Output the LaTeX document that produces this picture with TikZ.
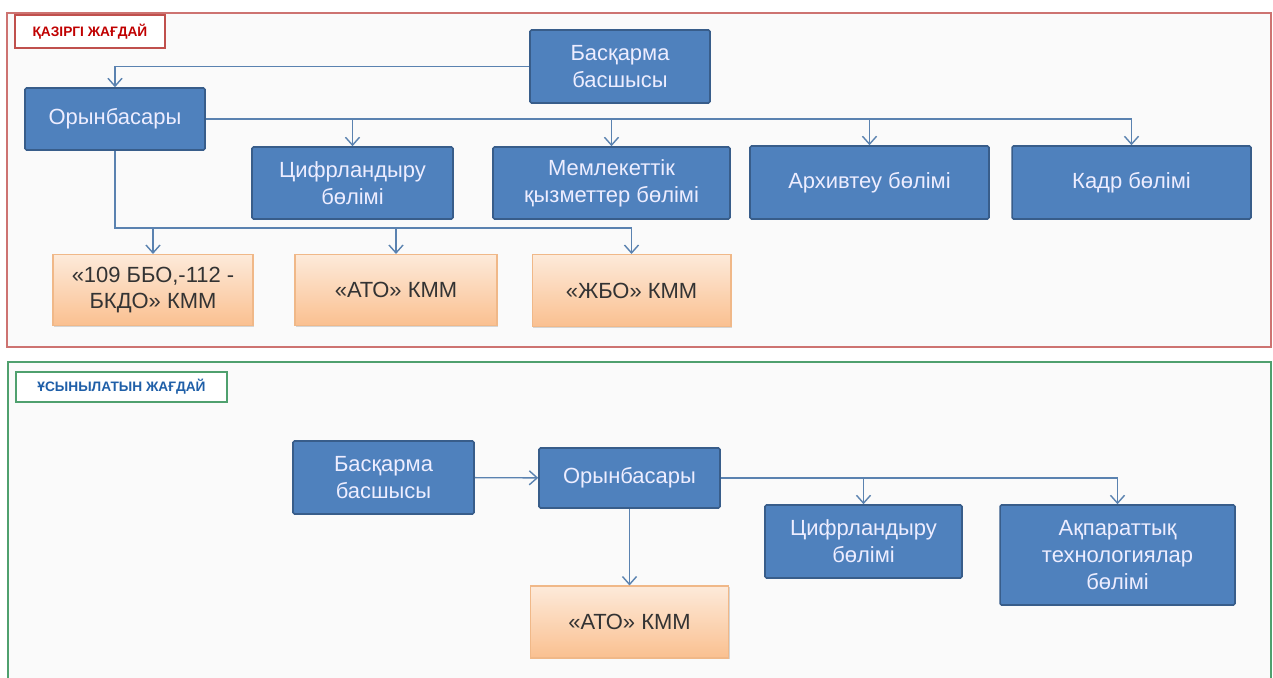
\documentclass[tikz,border=0pt]{standalone}
\usepackage{fontspec}
\setmainfont{Liberation Sans}
\usetikzlibrary{arrows.meta, positioning, shadows}
\definecolor{boxblue}{HTML}{4F81BD}
\definecolor{boxedge}{HTML}{385D8A}
\definecolor{linkblue}{HTML}{5A82B0}
\definecolor{peachtop}{HTML}{FDEADA}
\definecolor{peachbot}{HTML}{FAC090}
\definecolor{peachedge}{HTML}{F0B888}
\definecolor{nowred}{HTML}{C0504D}
\definecolor{nowtext}{HTML}{C00000}
\definecolor{newgreen}{HTML}{4FA06E}
\definecolor{newtext}{HTML}{1F5FA8}
\tikzset{
  unit/.style={rectangle,draw=boxedge,line width=0.9pt,rounded corners=0.8pt,fill=boxblue,text=white!93!blue,
    align=center,inner sep=2pt,font=\fontsize{12.5}{15.3}\selectfont},
  kmm/.style={rectangle,draw=peachedge,line width=0.6pt,top color=peachtop,bottom color=peachbot,text=black!80,
    align=center,inner sep=2pt,font=\fontsize{12.5}{15.3}\selectfont,
    drop shadow={shadow xshift=0.8pt,shadow yshift=-0.8pt,opacity=0.3}},
  frame/.style={rectangle,line width=0.8pt,fill=gray!4},
  tag/.style={rectangle,line width=0.8pt,fill=white,inner sep=0pt,font=\fontsize{7.8}{9}\selectfont\bfseries},
  line/.style={draw=linkblue,line width=0.8pt,-{Straight Barb[length=4.5pt,width=8pt]}}
}

\begin{document}
\begin{tikzpicture}[x=0.02cm,y=-0.02cm]
\useasboundingbox (0,0) rectangle (1273,677);
% frames
\draw[frame,draw=nowred!80] (7,13) rectangle (1271,347);
\draw[frame,draw=newgreen] (8,362) rectangle (1271,690);
\node[tag,draw=nowred,text=nowtext,minimum width=3cm,minimum height=0.66cm] (now) at (90,31.5) {ҚАЗІРГІ ЖАҒДАЙ};
\node[tag,draw=newgreen,text=newtext,minimum width=4.22cm,minimum height=0.6cm] (new) at (121.5,387) {ҰСЫНЫЛАТЫН ЖАҒДАЙ};

% current structure
\node[unit,minimum width=3.6cm,minimum height=1.46cm] (boss1) at (620,66.5) {Басқарма\\басшысы};
\node[unit,minimum width=3.6cm,minimum height=1.24cm] (dep1) at (115,119) {Орынбасары};
\node[unit,minimum width=4.02cm,minimum height=1.44cm] (cif1) at (352.5,183) {Цифрландыру\\бөлімі};
\node[unit,minimum width=4.74cm,minimum height=1.44cm] (mem1) at (611.5,183) {Мемлекеттік\\қызметтер бөлімі};
\node[unit,minimum width=4.78cm,minimum height=1.46cm] (arx1) at (869.5,182.5) {Архивтеу бөлімі};
\node[unit,minimum width=4.78cm,minimum height=1.46cm] (kad1) at (1131.5,182.5) {Кадр бөлімі};
\node[kmm,minimum width=4cm,minimum height=1.42cm] (kmm1) at (153,290) {«109 ББО,-112 -\\БКДО» КММ};
\node[kmm,minimum width=4.04cm,minimum height=1.42cm] (ato1) at (396,290) {«АТО» КММ};
\node[kmm,minimum width=3.98cm,minimum height=1.44cm] (jbo1) at (631.5,290.5) {«ЖБО» КММ};
\coordinate (bus1) at (115,228);

\draw[line] (boss1.west) -| (dep1.north);
\draw[line] (dep1.east) -| (cif1.north);
\draw[line] (dep1.east) -| (mem1.north);
\draw[line] (dep1.east) -| (arx1.north);
\draw[line] (dep1.east) -| (kad1.north);
\draw[line] (dep1.south) -- (bus1) -| (kmm1.north);
\draw[line] (bus1) -| (ato1.north);
\draw[line] (bus1) -| (jbo1.north);

% proposed structure
\node[unit,minimum width=3.62cm,minimum height=1.46cm] (boss2) at (383.5,477.5) {Басқарма\\басшысы};
\node[unit,minimum width=3.62cm,minimum height=1.2cm] (dep2) at (629.5,478) {Орынбасары};
\node[kmm,minimum width=3.96cm,minimum height=1.44cm] (ato2) at (629.5,622) {«АТО» КММ};
\node[unit,minimum width=3.94cm,minimum height=1.46cm] (cif2) at (863.5,541.5) {Цифрландыру\\бөлімі};
\node[unit,minimum width=4.7cm,minimum height=2cm] (akt2) at (1117.5,555) {Ақпараттық\\технологиялар\\бөлімі};

\draw[line] (boss2) -- (dep2);
\draw[line] (dep2) -- (ato2);
\draw[line] (dep2.east) -| (cif2.north);
\draw[line] (dep2.east) -| (akt2.north);
\end{tikzpicture}
\end{document}
